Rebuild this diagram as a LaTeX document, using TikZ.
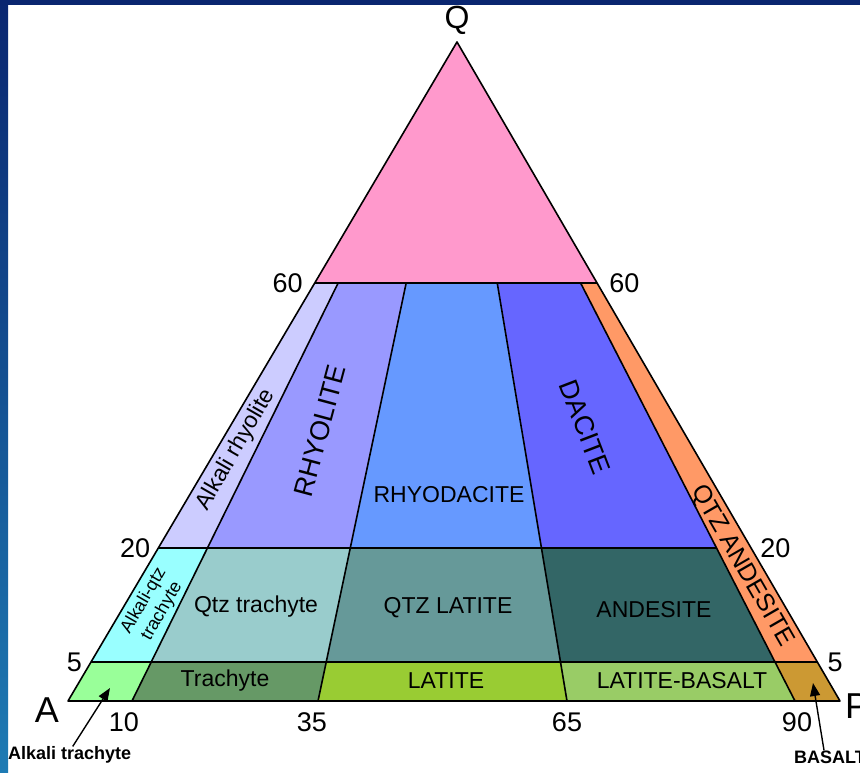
\documentclass[tikz,border=0pt]{standalone}
\usepackage{fontspec}
\setmainfont{Liberation Sans}
\usepackage{tikz}
\usetikzlibrary{positioning,arrows.meta,calc}
\definecolor{slidetop}{HTML}{0A2670}
\definecolor{slidemid}{HTML}{0A3A98}
\definecolor{slidelow}{HTML}{1E7BB4}
\definecolor{qpink}{HTML}{FF99CC}
\definecolor{alkrhy}{HTML}{CCCCFF}
\definecolor{rhyol}{HTML}{9999FF}
\definecolor{rhyod}{HTML}{6699FF}
\definecolor{dacit}{HTML}{6666FF}
\definecolor{qzand}{HTML}{FF9966}
\definecolor{akqtr}{HTML}{99FFFF}
\definecolor{qtrac}{HTML}{99CCCC}
\definecolor{qlati}{HTML}{669999}
\definecolor{andes}{HTML}{336666}
\definecolor{alktr}{HTML}{99FF99}
\definecolor{trach}{HTML}{669966}
\definecolor{latit}{HTML}{99CC33}
\definecolor{latba}{HTML}{99CC66}
\definecolor{basal}{HTML}{CC9933}

\begin{document}
\begin{tikzpicture}[x=1pt,y=-1pt,
  edge/.style={draw=black,line width=1.6pt,line join=round},
  num/.style={font=\fontsize{27}{30}\selectfont,inner sep=0pt},
  corner/.style={font=\fontsize{36}{40}\selectfont,inner sep=0pt},
  rock/.style={font=\fontsize{23}{26}\selectfont,inner sep=0pt,align=center},
  bigrock/.style={font=\fontsize{27}{30}\selectfont,inner sep=0pt},
  tag/.style={font=\bfseries\fontsize{18}{20}\selectfont,inner sep=0pt},
  arr/.style={-{Triangle[length=13pt,width=10pt]},line width=1.4pt}
]
\useasboundingbox (0,0) rectangle (860,773);
\clip (0,0) rectangle (860,773);

% slide frame
\fill[white] (0,0) rectangle (860,773);
\fill[slidetop] (0,0) rectangle (860,5);
\shade[top color=slidetop,middle color=slidemid,bottom color=slidelow]
  (0,0) rectangle (8,773);

% corners and base ticks (10, 35, 65, 90)
\coordinate (Q) at (457,42);
\coordinate (A) at (68,701);
\coordinate (P) at (840,701);
\coordinate (b10) at (132,701);
\coordinate (b35) at (318,701);
\coordinate (b65) at (567,701);
\coordinate (b90) at (795,701);

% points on the Q = 60, 20, 5 lines
\foreach \h/\t in {60/0.3657,20/0.7678,5/0.9408,0/1}{
  \foreach \p in {A,b10,b35,b65,b90,P}{
    \coordinate (\p-\h) at ($(Q)!\t!(\p)$);
  }
}

% fields
\fill[qpink] (Q) -- (A-60) -- (P-60) -- cycle;
\foreach \l/\r/\c in {A/b10/alkrhy,b10/b35/rhyol,b35/b65/rhyod,b65/b90/dacit}
  \fill[\c] (\l-60) -- (\r-60) -- (\r-20) -- (\l-20) -- cycle;
\fill[qzand] (b90-60) -- (P-60) -- (P-5) -- (b90-5) -- cycle;
\foreach \l/\r/\c in {A/b10/akqtr,b10/b35/qtrac,b35/b65/qlati,b65/b90/andes}
  \fill[\c] (\l-20) -- (\r-20) -- (\r-5) -- (\l-5) -- cycle;
\foreach \l/\r/\c in {A/b10/alktr,b10/b35/trach,b35/b65/latit,b65/b90/latba,b90/P/basal}
  \fill[\c] (\l-5) -- (\r-5) -- (\r-0) -- (\l-0) -- cycle;

% boundaries
\draw[edge] (A-60) -- (P-60);
\draw[edge] (A-20) -- (b90-20);
\draw[edge] (A-5) -- (P-5);
\foreach \p in {b10,b35,b65,b90}
  \draw[edge] (\p-60) -- (\p);
\draw[edge] (Q) -- (A) -- (P) -- cycle;

% field names
\node[rock,rotate=60] (alkrhyname) at (236,450) {Alkali rhyolite};
\node[bigrock,rotate=75] (rhyolname) at (320,431) {RHYOLITE};
\node[rock] (rhyodname) at (449,495) {RHYODACITE};
\node[bigrock,rotate=-69] (dacitname) at (585,427) {DACITE};
\node[rock,font=\fontsize{25}{28}\selectfont,rotate=-60] (qzandname) at (742,566) {QTZ ANDESITE};
\node[rock,font=\fontsize{18}{21}\selectfont,rotate=60] (akqtrname) at (153,606) {Alkali-qtz\\trachyte};
\node[rock] (qtracname) at (256,607) {Qtz trachyte};
\node[rock] (qlatiname) at (448,608) {QTZ LATITE};
\node[rock] (andesname) at (654,610) {ANDESITE};
\node[rock] (trachname) at (225,681) {Trachyte};
\node[rock] (latitname) at (446,681) {LATITE};
\node[rock] (latbaname) at (682,681) {LATITE-BASALT};

% apices
\node[corner,font=\fontsize{32}{36}\selectfont] (qname) at (457,20) {Q};
\node[corner] (aname) at (47,710) {A};
\node[corner,anchor=west] (pname) at (845,706) {P};

% scale values
\node[num,left=12pt of A-60] (l60) {60};
\node[num,right=12pt of P-60] (r60) {60};
\node[num,left=8pt of A-20] (l20) {20};
\node[num,right=9pt of P-20] (r20) {20};
\node[num,left=9pt of A-5] (l5) {5};
\node[num,right=10pt of P-5] (r5) {5};
\node[num,below=11pt of b10,xshift=-8pt] (n10) {10};
\node[num,below=11pt of b35,xshift=-6pt] (n35) {35};
\node[num,below=11pt of b65] (n65) {65};
\node[num,below=11pt of b90,xshift=2pt] (n90) {90};

% pointers to the two small fields
\coordinate (alktrtip) at (110,688);
\coordinate (basaltip) at (813,683);
\node[tag,anchor=west] (alktrname) at (8,755) {Alkali trachyte};
\node[tag,anchor=west] (basalname) at (794,757) {BASALT};
\draw[arr] ([xshift=3pt]alktrname.north) -- (alktrtip);
\draw[arr] ([xshift=-6pt]basalname.north) -- (basaltip);
\end{tikzpicture}
\end{document}
